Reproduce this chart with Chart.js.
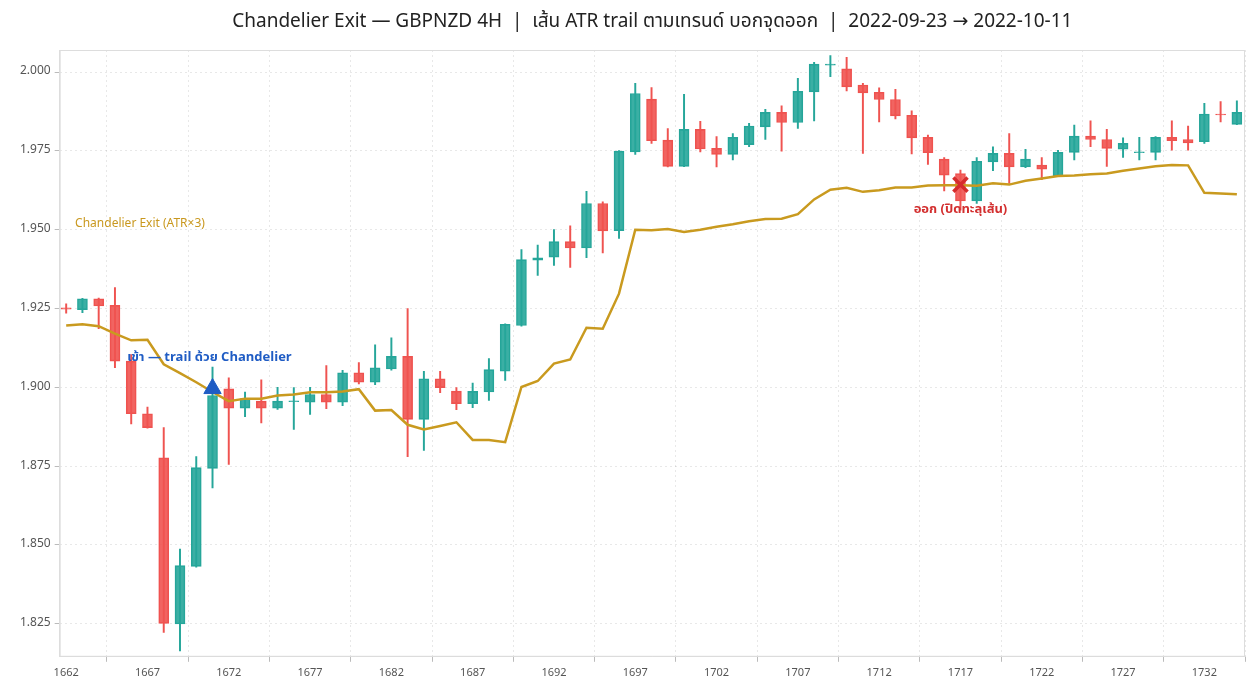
<!DOCTYPE html>
<html>
<head>
<meta charset="utf-8">
<script src="https://cdn.jsdelivr.net/npm/chart.js@4.4.1/dist/chart.umd.min.js"></script>
<style>
  html, body { margin: 0; padding: 0; background: #fff; overflow: hidden; }
  #wrap { width: 1254px; height: 691px; }
</style>
</head>
<body>
<div id="wrap"><canvas id="chart"></canvas></div>
<script>
// bar numbers on the x axis
const bars = [
  1662, 1663, 1664, 1665, 1666, 1667, 1668, 1669, 1670, 1671,
  1672, 1673, 1674, 1675, 1676, 1677, 1678, 1679, 1680, 1681,
  1682, 1683, 1684, 1685, 1686, 1687, 1688, 1689, 1690, 1691,
  1692, 1693, 1694, 1695, 1696, 1697, 1698, 1699, 1700, 1701,
  1702, 1703, 1704, 1705, 1706, 1707, 1708, 1709, 1710, 1711,
  1712, 1713, 1714, 1715, 1716, 1717, 1718, 1719, 1720, 1721,
  1722, 1723, 1724, 1725, 1726, 1727, 1728, 1729, 1730, 1731,
  1732, 1733, 1734
];

const opens = [
  1.9252, 1.9246, 1.9281, 1.9260, 1.9083, 1.8916, 1.8776, 1.8249, 1.8432, 1.8743,
  1.8995, 1.8934, 1.8956, 1.8934, 1.8954, 1.8953, 1.8977, 1.8953, 1.9046, 1.9016,
  1.9058, 1.9098, 1.8898, 1.9027, 1.8988, 1.8948, 1.8985, 1.9051, 1.9196, 1.9403,
  1.9413, 1.9462, 1.9442, 1.9583, 1.9497, 1.9747, 1.9914, 1.9784, 1.9701, 1.9818,
  1.9758, 1.9739, 1.9770, 1.9826, 1.9872, 1.9840, 1.9937, 2.0022, 2.0010, 1.9959,
  1.9936, 1.9913, 1.9863, 1.9793, 1.9724, 1.9678, 1.9591, 1.9715, 1.9742, 1.9699,
  1.9705, 1.9670, 1.9745, 1.9797, 1.9786, 1.9755, 1.9744, 1.9745, 1.9793, 1.9786,
  1.9779, 1.9867, 1.9834
];
const highs = [
  1.9265, 1.9282, 1.9283, 1.9316, 1.9104, 1.8937, 1.8872, 1.8487, 1.8780, 1.9064,
  1.9030, 1.8985, 1.9024, 1.9000, 1.8999, 1.9000, 1.9069, 1.9054, 1.9078, 1.9135,
  1.9157, 1.9250, 1.9051, 1.9051, 1.8999, 1.9013, 1.9091, 1.9201, 1.9437, 1.9451,
  1.9500, 1.9512, 1.9622, 1.9588, 1.9751, 1.9964, 1.9951, 1.9821, 1.9929, 1.9844,
  1.9795, 1.9805, 1.9837, 1.9882, 1.9893, 1.9980, 2.0031, 2.0052, 2.0047, 1.9964,
  1.9950, 1.9945, 1.9877, 1.9800, 1.9729, 1.9689, 1.9729, 1.9763, 1.9805, 1.9755,
  1.9729, 1.9752, 1.9832, 1.9845, 1.9818, 1.9791, 1.9793, 1.9795, 1.9845, 1.9829,
  1.9901, 1.9906, 1.9909
];
const lows = [
  1.9235, 1.9237, 1.9186, 1.9062, 1.8884, 1.8870, 1.8222, 1.8164, 1.8429, 1.8681,
  1.8755, 1.8907, 1.8887, 1.8930, 1.8866, 1.8914, 1.8932, 1.8942, 1.9011, 1.9008,
  1.9054, 1.8780, 1.8800, 1.8983, 1.8929, 1.8935, 1.8958, 1.9022, 1.9194, 1.9355,
  1.9387, 1.9380, 1.9411, 1.9426, 1.9472, 1.9739, 1.9774, 1.9699, 1.9700, 1.9747,
  1.9699, 1.9721, 1.9763, 1.9786, 1.9749, 1.9821, 1.9845, 1.9985, 1.9940, 1.9742,
  1.9842, 1.9851, 1.9740, 1.9707, 1.9623, 1.9562, 1.9583, 1.9687, 1.9647, 1.9697,
  1.9659, 1.9668, 1.9721, 1.9763, 1.9701, 1.9729, 1.9721, 1.9721, 1.9752, 1.9752,
  1.9774, 1.9842, 1.9833
];
const closes = [
  1.9248, 1.9281, 1.9258, 1.9083, 1.8916, 1.8872, 1.8251, 1.8434, 1.8745, 1.8974,
  1.8934, 1.8964, 1.8934, 1.8956, 1.8957, 1.8977, 1.8953, 1.9046, 1.9016, 1.9062,
  1.9098, 1.8898, 1.9027, 1.8999, 1.8948, 1.8987, 1.9056, 1.9200, 1.9405, 1.9411,
  1.9462, 1.9442, 1.9583, 1.9496, 1.9749, 1.9932, 1.9782, 1.9701, 1.9818, 1.9756,
  1.9739, 1.9793, 1.9829, 1.9872, 1.9840, 1.9939, 2.0025, 2.0025, 1.9953, 1.9934,
  1.9913, 1.9861, 1.9791, 1.9744, 1.9673, 1.9591, 1.9717, 1.9742, 1.9699, 1.9724,
  1.9692, 1.9745, 1.9797, 1.9786, 1.9758, 1.9774, 1.9747, 1.9793, 1.9782, 1.9775,
  1.9867, 1.9864, 1.9872
];

// Chandelier Exit (ATR x3) trail
const chandelier = [
  1.9196, 1.9200, 1.9194, 1.9170, 1.9149, 1.9151, 1.9073, 1.9045, 1.9016, 1.8985,
  1.8956, 1.8964, 1.8964, 1.8974, 1.8977, 1.8984, 1.8984, 1.8987, 1.8994, 1.8926,
  1.8928, 1.8881, 1.8866, 1.8877, 1.8889, 1.8833, 1.8833, 1.8826, 1.9001, 1.9020,
  1.9075, 1.9088, 1.9189, 1.9186, 1.9297, 1.9500, 1.9498, 1.9502, 1.9493, 1.9500,
  1.9509, 1.9517, 1.9527, 1.9534, 1.9535, 1.9549, 1.9596, 1.9627, 1.9633, 1.9620,
  1.9625, 1.9634, 1.9634, 1.9640, 1.9641, 1.9641, 1.9639, 1.9647, 1.9643, 1.9655,
  1.9662, 1.9670, 1.9672, 1.9676, 1.9678, 1.9687, 1.9694, 1.9701, 1.9705, 1.9704,
  1.9617, 1.9615, 1.9612
];

const entryPoint = { x: 1671, y: 1.8996 };
const exitPoint = { x: 1717, y: 1.9643 };

const xTicks = [1662, 1667, 1672, 1677, 1682, 1687, 1692, 1697, 1702, 1707, 1712, 1717, 1722, 1727, 1732];
const yTicks = [1.825, 1.850, 1.875, 1.900, 1.925, 1.950, 1.975, 2.000];

const titleText = 'Chandelier Exit — GBPNZD 4H  |  เส้น ATR trail ตามเทรนด์ บอกจุดออก  |  2022-09-23 → 2022-10-11';

const notes = [
  { x: 1665.75, y: 1.9092, text: 'เข้า — trail ด้วย Chandelier', color: '#1f5cc4', align: 'left', bold: true, size: 13 },
  { x: 1717, y: 1.9562, text: 'ออก (ปิดทะลุเส้น)', color: '#d32f2f', align: 'center', bold: true, size: 13 },
  { x: 1662.55, y: 1.9517, text: 'Chandelier Exit (ATR×3)', color: '#c9981f', align: 'left', bold: false, size: 12 }
];

const UP = '#26a69a';
const DOWN = '#ef5350';
const GOLD = '#c99a1f';
const FONT = "'Noto Sans Thai', 'Noto Sans', 'DejaVu Sans', sans-serif";

const isUp = bars.map((b, i) => closes[i] >= opens[i]);
const candleColors = isUp.map(u => (u ? UP : DOWN));
const bodyFill = isUp.map(u => (u ? 'rgba(38, 166, 154, 0.9)' : 'rgba(239, 83, 80, 0.9)'));

// frame around the plot area
const framePlugin = {
  id: 'frame',
  beforeDatasetsDraw(chart) {
    const { ctx, chartArea: a } = chart;
    ctx.save();
    ctx.strokeStyle = '#dddddd';
    ctx.lineWidth = 1;
    ctx.strokeRect(a.left + 0.5, a.top + 0.5, a.right - a.left - 1, a.bottom - a.top - 1);
    ctx.restore();
  }
};

// title centred over the plot area, plus text notes placed through the scales
const notesPlugin = {
  id: 'notes',
  afterDatasetsDraw(chart) {
    const { ctx, scales, chartArea: a } = chart;
    ctx.save();
    ctx.font = '19px ' + FONT;
    ctx.fillStyle = '#222';
    ctx.textAlign = 'center';
    ctx.textBaseline = 'middle';
    ctx.fillText(titleText, (a.left + a.right) / 2, 23);

    notes.forEach(n => {
      ctx.font = (n.bold ? 'bold ' : '') + n.size + 'px ' + FONT;
      ctx.fillStyle = n.color;
      ctx.textAlign = n.align;
      ctx.textBaseline = 'middle';
      ctx.fillText(n.text, scales.x.getPixelForValue(n.x), scales.y.getPixelForValue(n.y));
    });
    ctx.restore();
  }
};

const ctx = document.getElementById('chart').getContext('2d');

new Chart(ctx, {
  type: 'bar',
  data: {
    datasets: [
      {
        type: 'line',
        label: 'Chandelier Exit (ATR×3)',
        data: bars.map((b, i) => ({ x: b, y: chandelier[i] })),
        borderColor: GOLD,
        borderWidth: 2.5,
        pointRadius: 0,
        tension: 0,
        order: 2
      },
      {
        label: 'wick',
        data: bars.map((b, i) => ({ x: b, y: [lows[i], highs[i]] })),
        backgroundColor: candleColors,
        borderWidth: 0,
        barThickness: 1.3,
        grouped: false,
        order: 4
      },
      {
        label: 'body',
        data: bars.map((b, i) => ({ x: b, y: [opens[i], closes[i]] })),
        backgroundColor: bodyFill,
        borderColor: candleColors,
        borderWidth: 1,
        borderSkipped: false,
        barThickness: 10,
        grouped: false,
        order: 3
      },
      {
        type: 'scatter',
        label: 'entry',
        data: [entryPoint],
        pointStyle: 'triangle',
        pointRadius: 10,
        backgroundColor: '#1f5cc4',
        borderColor: '#1f5cc4',
        order: 0
      },
      {
        type: 'scatter',
        label: 'exit',
        data: [exitPoint],
        pointStyle: 'crossRot',
        pointRadius: 10,
        borderWidth: 3.5,
        borderColor: '#d62c2c',
        order: 0
      }
    ]
  },
  options: {
    responsive: true,
    maintainAspectRatio: false,
    animation: false,
    layout: {
      autoPadding: false,
      padding: { left: 16, right: 9, bottom: 6, top: 50 }
    },
    plugins: {
      legend: { display: false },
      tooltip: { enabled: false },
      title: { display: false }
    },
    scales: {
      x: {
        type: 'linear',
        min: 1661.6,
        max: 1734.5,
        offset: false,
        afterBuildTicks: scale => {
          scale.ticks = xTicks.map(v => ({ value: v }));
        },
        afterFit: scale => {
          scale.paddingLeft = 0;
          scale.paddingRight = 0;
        },
        ticks: {
          color: '#555',
          font: { family: FONT, size: 11 },
          padding: 5,
          maxRotation: 0,
          callback: v => String(v)
        },
        grid: {
          color: 'rgba(0, 0, 0, 0.09)',
          tickLength: 5,
          tickColor: '#bbb'
        },
        border: { color: '#dddddd', dash: [2, 3] }
      },
      y: {
        min: 1.8145,
        max: 2.007,
        afterBuildTicks: scale => {
          scale.ticks = yTicks.map(v => ({ value: v }));
        },
        ticks: {
          color: '#555',
          font: { family: FONT, size: 12 },
          padding: 4,
          callback: v => v.toFixed(3)
        },
        grid: {
          color: 'rgba(0, 0, 0, 0.09)',
          tickLength: 5,
          tickColor: '#bbb'
        },
        border: { color: '#dddddd', dash: [2, 3] }
      }
    }
  },
  plugins: [framePlugin, notesPlugin]
});
</script>
</body>
</html>
